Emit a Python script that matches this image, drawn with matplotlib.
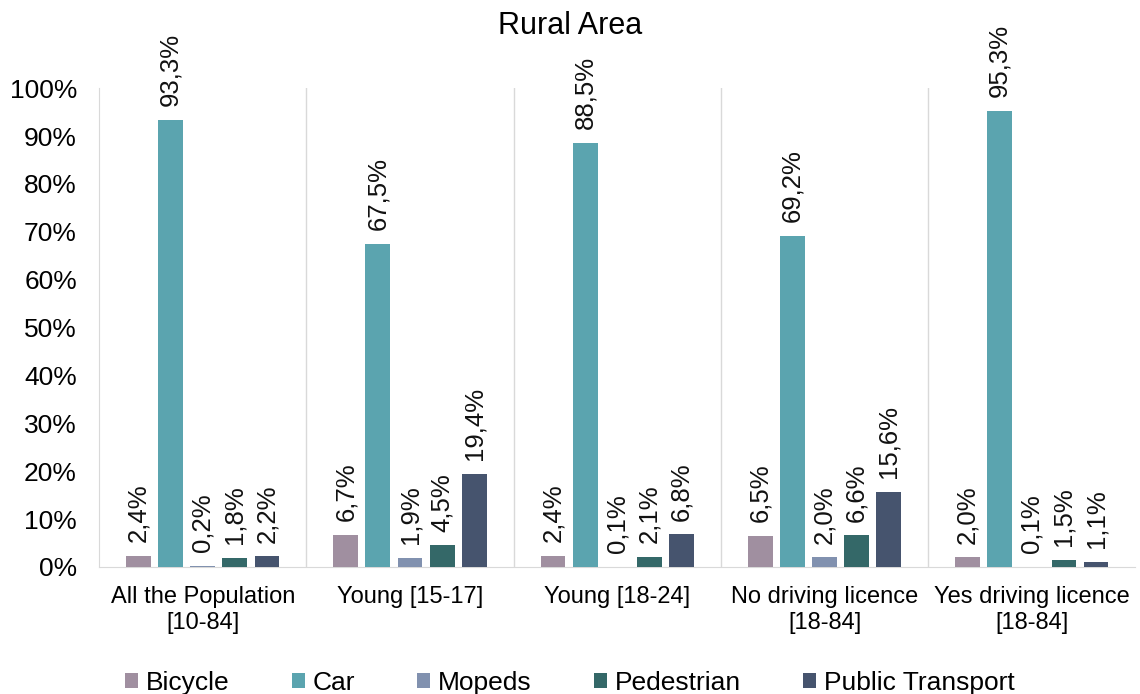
import numpy as np
import matplotlib.pyplot as plt
from matplotlib.ticker import PercentFormatter

plt.rcParams['font.family'] = ['Liberation Sans', 'DejaVu Sans']

groups = ["All the Population\n[10-84]", "Young [15-17]", "Young [18-24]",
          "No driving licence\n[18-84]", "Yes driving licence\n[18-84]"]
modes = ["Bicycle", "Car", "Mopeds", "Pedestrian", "Public Transport"]
bicycle = [2.4, 6.7, 2.4, 6.5, 2.0]
car = [93.3, 67.5, 88.5, 69.2, 95.3]
mopeds = [0.2, 1.9, 0.1, 2.0, 0.1]
pedestrian = [1.8, 4.5, 2.1, 6.6, 1.5]
public_transport = [2.2, 19.4, 6.8, 15.6, 1.1]
colors = ["#A08FA0", "#5BA4AF", "#8191AF", "#346868", "#46546E"]

series = [bicycle, car, mopeds, pedestrian, public_transport]

fig = plt.figure(figsize=(11.4, 6.94), dpi=100)
ax = fig.add_axes([0.087, 0.183, 0.909, 0.69])

x = np.arange(len(groups))
width = 0.12
step = 0.155
for i, (name, vals, c) in enumerate(zip(modes, series, colors)):
    pos = x + (i - 2) * step
    ax.bar(pos, vals, width, color=c, label=name, zorder=3)
    for p, v in zip(pos, vals):
        ax.annotate(f"{v:.1f}%".replace(".", ","), xy=(p, v), xytext=(0, 10),
                    textcoords="offset points", rotation=90,
                    ha="center", va="bottom", fontsize=18.5, color="#111111")

ax.set_xlim(-0.5, len(groups) - 0.5)
ax.set_ylim(0, 100)
ax.set_yticks(np.arange(0, 101, 10))
ax.yaxis.set_major_formatter(PercentFormatter(decimals=0))
ax.set_xticks(x)
ax.set_xticklabels(groups, fontsize=17, linespacing=1.18)
ax.tick_params(axis="y", labelsize=19, length=0, pad=16)
ax.tick_params(axis="x", length=0, pad=14)

for b in x[:-1] + 0.5:
    ax.axvline(b, color="#D9D9D9", lw=1, zorder=1)
for s in ["top", "right"]:
    ax.spines[s].set_visible(False)
for s in ["left", "bottom"]:
    ax.spines[s].set_color("#D9D9D9")

fig.text(0.5, 0.963, "Rural Area", ha="center", va="center", fontsize=22)

fig.legend(loc="lower center", bbox_to_anchor=(0.5, -0.036), ncol=5, frameon=False,
           fontsize=19, handlelength=0.5, handleheight=0.5, handletextpad=0.3,
           columnspacing=2.35)

fig.savefig("out.png", dpi=100)
